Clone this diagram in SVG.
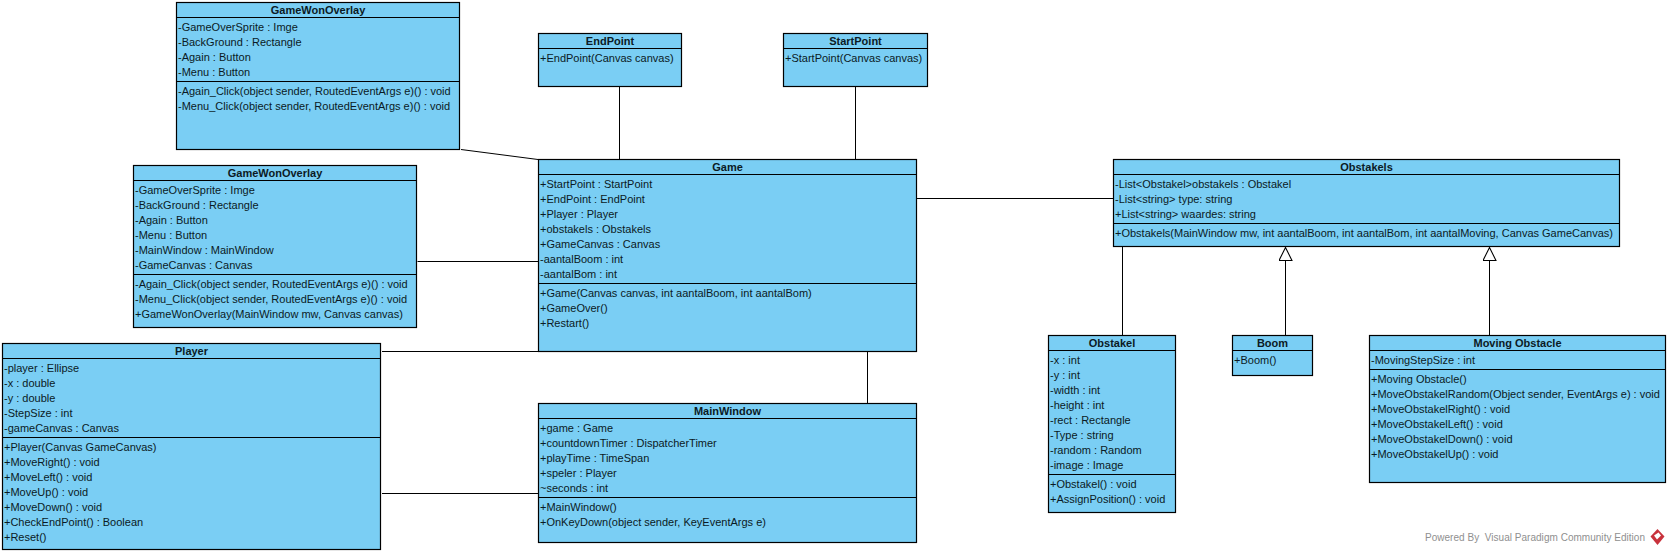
<svg xmlns="http://www.w3.org/2000/svg" width="1669" height="554" viewBox="0 0 1669 554">
<style>
.box{fill:#7acef4;stroke:#000;stroke-width:1.2}
.sep{stroke:#000;stroke-width:1;fill:none}
.conn{stroke:#000;stroke-width:1;fill:none}
text{font-family:"Liberation Sans",Arial,sans-serif;font-size:11px;fill:#0b1a24}
.t{font-weight:bold;text-anchor:middle}
</style>
<defs><marker id="tri" markerUnits="userSpaceOnUse" markerWidth="14" markerHeight="14" refX="6.5" refY="0.5" orient="0" viewBox="0 0 13 13"><path d="M6.5 0.5L12.5 12.5H0.5Z" fill="#fff" stroke="#000"/></marker></defs>
<rect width="1669" height="554" fill="#fff"/>
<g id="connectors">
<path class="conn" d="M461 149.5L538 159.5"/>
<path class="conn" d="M417.5 261.5H538"/>
<path class="conn" d="M382 351.5H538"/>
<path class="conn" d="M382 493.5H538"/>
<path class="conn" d="M619.5 87V159"/>
<path class="conn" d="M855.5 87V159"/>
<path class="conn" d="M867.5 352V403"/>
<path class="conn" d="M917 198.5H1113"/>
<path class="conn" d="M1122.5 247V335"/>
<path class="conn" d="M1285.5 335V247.500" marker-end="url(#tri)"/>
<path class="conn" d="M1489.500 335V247.500" marker-end="url(#tri)"/>
</g>
<g id="GameWonOverlay1"><rect class="box" x="176.500" y="2.500" width="283" height="147"/><path class="sep" d="M176.500 17.500H459.500M176.500 81.500H459.500"/>
<text class="t" x="318" y="14">GameWonOverlay</text>
<text x="178" y="31">-GameOverSprite : Imge</text><text x="178" y="46">-BackGround : Rectangle</text><text x="178" y="61">-Again : Button</text><text x="178" y="76">-Menu : Button</text>
<text x="178" y="95">-Again_Click(object sender, RoutedEventArgs e)() : void</text><text x="178" y="110">-Menu_Click(object sender, RoutedEventArgs e)() : void</text></g>
<g id="GameWonOverlay2"><rect class="box" x="133.500" y="165.500" width="283" height="162"/><path class="sep" d="M133.500 180.500H416.500M133.500 274.500H416.500"/>
<text class="t" x="275" y="177">GameWonOverlay</text>
<text x="135" y="194">-GameOverSprite : Imge</text><text x="135" y="209">-BackGround : Rectangle</text><text x="135" y="224">-Again : Button</text><text x="135" y="239">-Menu : Button</text><text x="135" y="254">-MainWindow : MainWindow</text><text x="135" y="269">-GameCanvas : Canvas</text>
<text x="135" y="288">-Again_Click(object sender, RoutedEventArgs e)() : void</text><text x="135" y="303">-Menu_Click(object sender, RoutedEventArgs e)() : void</text><text x="135" y="318">+GameWonOverlay(MainWindow mw, Canvas canvas)</text></g>
<g id="Player"><rect class="box" x="2.500" y="343.500" width="378" height="206"/><path class="sep" d="M2.500 358.500H380.500M2.500 437.500H380.500"/>
<text class="t" x="191.500" y="355">Player</text>
<text x="4" y="372">-player : Ellipse</text><text x="4" y="387">-x : double</text><text x="4" y="402">-y : double</text><text x="4" y="417">-StepSize : int</text><text x="4" y="432">-gameCanvas : Canvas</text>
<text x="4" y="451">+Player(Canvas GameCanvas)</text><text x="4" y="466">+MoveRight() : void</text><text x="4" y="481">+MoveLeft() : void</text><text x="4" y="496">+MoveUp() : void</text><text x="4" y="511">+MoveDown() : void</text><text x="4" y="526">+CheckEndPoint() : Boolean</text><text x="4" y="541">+Reset()</text></g>
<g id="EndPoint"><rect class="box" x="538.500" y="33.500" width="143" height="53"/><path class="sep" d="M538.500 48.500H681.500"/>
<text class="t" x="610" y="45">EndPoint</text><text x="540" y="62">+EndPoint(Canvas canvas)</text></g>
<g id="StartPoint"><rect class="box" x="783.500" y="33.500" width="144" height="53"/><path class="sep" d="M783.500 48.500H927.500"/>
<text class="t" x="855.500" y="45">StartPoint</text><text x="785" y="62">+StartPoint(Canvas canvas)</text></g>
<g id="Game"><rect class="box" x="538.500" y="159.500" width="378" height="192"/><path class="sep" d="M538.500 174.500H916.500M538.500 283.500H916.500"/>
<text class="t" x="727.500" y="171">Game</text>
<text x="540" y="188">+StartPoint : StartPoint</text><text x="540" y="203">+EndPoint : EndPoint</text><text x="540" y="218">+Player : Player</text><text x="540" y="233">+obstakels : Obstakels</text><text x="540" y="248">+GameCanvas : Canvas</text><text x="540" y="263">-aantalBoom : int</text><text x="540" y="278">-aantalBom : int</text>
<text x="540" y="297">+Game(Canvas canvas, int aantalBoom, int aantalBom)</text><text x="540" y="312">+GameOver()</text><text x="540" y="327">+Restart()</text></g>
<g id="MainWindow"><rect class="box" x="538.500" y="403.500" width="378" height="139"/><path class="sep" d="M538.500 418.500H916.500M538.500 497.500H916.500"/>
<text class="t" x="727.500" y="415">MainWindow</text>
<text x="540" y="432">+game : Game</text><text x="540" y="447">+countdownTimer : DispatcherTimer</text><text x="540" y="462">+playTime : TimeSpan</text><text x="540" y="477">+speler : Player</text><text x="540" y="492">~seconds : int</text>
<text x="540" y="511">+MainWindow()</text><text x="540" y="526">+OnKeyDown(object sender, KeyEventArgs e)</text></g>
<g id="Obstakels"><rect class="box" x="1113.500" y="159.500" width="506" height="87"/><path class="sep" d="M1113.500 174.500H1619.500M1113.500 223.500H1619.500"/>
<text class="t" x="1366.500" y="171">Obstakels</text>
<text x="1115" y="188">-List&lt;Obstakel&gt;obstakels : Obstakel</text><text x="1115" y="203">-List&lt;string&gt; type: string</text><text x="1115" y="218">+List&lt;string&gt; waardes: string</text>
<text x="1115" y="237">+Obstakels(MainWindow mw, int aantalBoom, int aantalBom, int aantalMoving, Canvas GameCanvas)</text></g>
<g id="Obstakel"><rect class="box" x="1048.500" y="335.500" width="127" height="177"/><path class="sep" d="M1048.500 350.500H1175.500M1048.500 474.500H1175.500"/>
<text class="t" x="1112" y="347">Obstakel</text>
<text x="1050" y="364">-x : int</text><text x="1050" y="379">-y : int</text><text x="1050" y="394">-width : int</text><text x="1050" y="409">-height : int</text><text x="1050" y="424">-rect : Rectangle</text><text x="1050" y="439">-Type : string</text><text x="1050" y="454">-random : Random</text><text x="1050" y="469">-image : Image</text>
<text x="1050" y="488">+Obstakel() : void</text><text x="1050" y="503">+AssignPosition() : void</text></g>
<g id="Boom"><rect class="box" x="1232.500" y="335.500" width="80" height="40"/><path class="sep" d="M1232.500 350.500H1312.500"/>
<text class="t" x="1272.500" y="347">Boom</text><text x="1234" y="364">+Boom()</text></g>
<g id="MovingObstacle"><rect class="box" x="1369.500" y="335.500" width="296" height="147"/><path class="sep" d="M1369.500 350.500H1665.500M1369.500 369.500H1665.500"/>
<text class="t" x="1517.500" y="347">Moving Obstacle</text><text x="1371" y="364">-MovingStepSize : int</text>
<text x="1371" y="383">+Moving Obstacle()</text><text x="1371" y="398">+MoveObstakelRandom(Object sender, EventArgs e) : void</text><text x="1371" y="413">+MoveObstakelRight() : void</text><text x="1371" y="428">+MoveObstakelLeft() : void</text><text x="1371" y="443">+MoveObstakelDown() : void</text><text x="1371" y="458">+MoveObstakelUp() : void</text></g>
<g id="watermark"><text x="1425" y="541" textLength="220" style="fill:#8f8f8f;font-size:10px">Powered By&#160;&#160;Visual Paradigm Community Edition</text>
<path d="M1657.500 529L1664.500 536.500L1657.500 545L1650.500 536.500Z" fill="#c8323c"/><path d="M1654 535.500L1658.500 532.500L1661 535.500L1657 539.500Z" fill="#fff"/></g>
</svg>
